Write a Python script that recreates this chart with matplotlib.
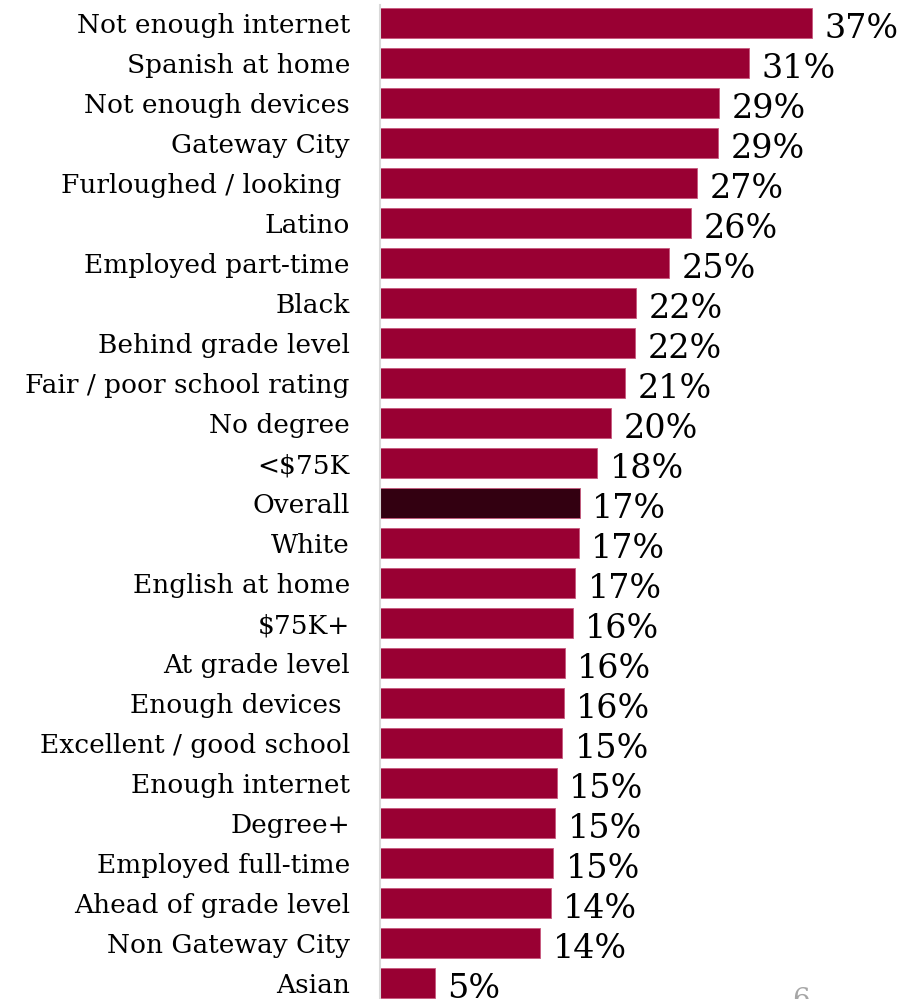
import matplotlib
matplotlib.use("Agg")
import matplotlib.pyplot as plt

categories = ["Not enough internet", "Spanish at home", "Not enough devices", "Gateway City",
              "Furloughed / looking ", "Latino", "Employed part-time", "Black",
              "Behind grade level", "Fair / poor school rating", "No degree", "<$75K",
              "Overall", "White", "English at home", "$75K+", "At grade level",
              "Enough devices ", "Excellent / good school", "Enough internet", "Degree+",
              "Employed full-time", "Ahead of grade level", "Non Gateway City", "Asian"]
values = [36.95, 31.6, 29.0, 28.9, 27.1, 26.6, 24.7, 21.9, 21.8, 21.0, 19.8, 18.6,
          17.1, 17.0, 16.7, 16.5, 15.8, 15.7, 15.6, 15.1, 15.0, 14.8, 14.6, 13.7, 4.7]
value_labels = ["37%", "31%", "29%", "29%", "27%", "26%", "25%", "22%", "22%", "21%",
                "20%", "18%", "17%", "17%", "17%", "16%", "16%", "16%", "15%", "15%",
                "15%", "15%", "14%", "14%", "5%"]
highlight = "Overall"
page_number = "6"

bar_color = "#990033"
overall_color = "#330011"

W, H = 904, 999
fig = plt.figure(figsize=(W / 100, H / 100), dpi=100)
ax = fig.add_axes([380 / W, 0, 1 - 380 / W, 1])

rows = list(range(len(categories)))
colors = [overall_color if c == highlight else bar_color for c in categories]
ax.barh(rows, values, height=0.75, color=colors, edgecolor="#c8577d", linewidth=0.6)

px_per_pct = 11.69
ax.set_xlim(0, (W - 380) / px_per_pct)
ax.set_ylim((H - 23.3) / 40, -23.3 / 40)

for s in ["top", "right", "bottom"]:
    ax.spines[s].set_visible(False)
ax.spines["left"].set_color("#d9d9d9")
ax.spines["left"].set_linewidth(1.5)
ax.spines["left"].set_bounds(-18.3 / 40, (H - 23.3) / 40)
ax.set_xticks([])
ax.set_yticks([])

serif = ["DejaVu Serif"]
for r, cat, v, lab in zip(rows, categories, values, value_labels):
    ax.annotate(cat, xy=(0, r + 0.25), xytext=(-21.6, 0), textcoords="offset points",
                ha="right", va="baseline", fontsize=19, family=serif, color="black",
                annotation_clip=False)
    ax.annotate(lab, xy=(v, r + 0.36), xytext=(9, 0), textcoords="offset points",
                ha="left", va="baseline", fontsize=24, family=serif, color="black",
                annotation_clip=False)

fig.text(792 / W, 1 - 987 / H, page_number, ha="left", va="top", fontsize=20,
         family=serif, color="#a6a6a6")

fig.savefig("out.png", dpi=100)
